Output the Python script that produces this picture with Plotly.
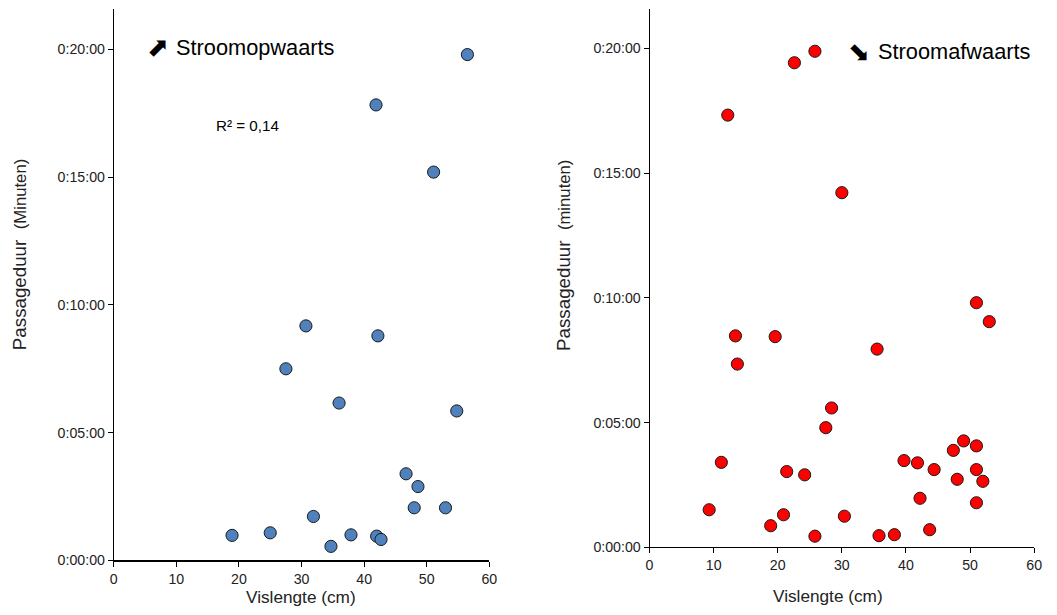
import plotly.graph_objects as go

# Stroomopwaarts (upstream): fish length (cm) and passage duration (minutes)
up_length = [41.9, 56.5, 51.1, 30.7, 42.2, 27.5, 36.0, 54.8, 46.7, 48.6,
             48.0, 53.0, 31.9, 18.9, 25.0, 34.7, 37.9, 42.0, 42.7]
up_minutes = [17.83, 19.80, 15.20, 9.18, 8.79, 7.50, 6.16, 5.85, 3.39, 2.89,
              2.06, 2.06, 1.72, 0.98, 1.08, 0.55, 1.00, 0.95, 0.82]

# Stroomafwaarts (downstream)
down_length = [12.2, 22.6, 25.8, 30.0, 51.0, 53.0, 13.4, 19.6, 35.5, 13.7,
               28.4, 27.5, 49.0, 47.4, 51.0, 11.2, 39.7, 41.8, 44.4, 51.0,
               21.4, 24.2, 48.0, 52.0, 42.2, 51.0, 9.3, 20.9, 30.4, 18.9,
               25.8, 35.8, 38.2, 43.7]
down_minutes = [17.33, 19.43, 19.89, 14.22, 9.81, 9.05, 8.48, 8.45, 7.95, 7.35,
                5.59, 4.80, 4.27, 3.89, 4.07, 3.41, 3.48, 3.39, 3.12, 3.12,
                3.04, 2.91, 2.73, 2.65, 1.97, 1.79, 1.51, 1.31, 1.25, 0.87,
                0.45, 0.47, 0.51, 0.71]

x_ticks = [0, 10, 20, 30, 40, 50, 60]
y_tickvals = [0, 5, 10, 15, 20]
y_ticktext = ["0:00:00", "0:05:00", "0:10:00", "0:15:00", "0:20:00"]

OFF = 8
W, H = 1057 - 2 * OFF, 615 - 2 * OFF
FONT = "Liberation Sans, Arial, sans-serif"
S = 0.987          # observed rendering scale
AX, AY = 4.5, -0.5  # observed rendering offset

def px_x(p):
    d = (p - AX) / S
    return (d - OFF) / W

def px_y(p):
    d = (p - AY) / S
    return 1 - (d - OFF) / H

def fs(v):
    return round(v / S, 2)

fig = go.Figure()
fig.add_trace(go.Scatter(
    x=up_length, y=up_minutes, mode="markers", xaxis="x", yaxis="y",
    marker=dict(size=fs(12), color="#4F81BD", line=dict(color="#1a1a1a", width=1)),
    showlegend=False))
fig.add_trace(go.Scatter(
    x=down_length, y=down_minutes, mode="markers", xaxis="x2", yaxis="y2",
    marker=dict(size=fs(12), color="#FF0000", line=dict(color="#1a1a1a", width=1)),
    showlegend=False))

tickfont = dict(family=FONT, size=fs(14), color="#222")
common_x = dict(range=[0, 60], tickvals=x_ticks, ticks="outside", ticklen=5,
                tickcolor="black", showgrid=False, zeroline=False,
                showline=True, linecolor="black", tickfont=tickfont, fixedrange=True)
common_y = dict(range=[0, 21.6], tickvals=y_tickvals, ticktext=y_ticktext,
                ticks="outside", ticklen=5, tickcolor="black", showgrid=False,
                zeroline=False, showline=True, linecolor="black", linewidth=1,
                tickfont=tickfont, fixedrange=True)

fig.update_layout(
    width=W, height=H,
    margin=dict(l=0, r=0, t=0, b=0),
    paper_bgcolor="white", plot_bgcolor="white",
    font=dict(family=FONT, color="#222"),
    xaxis=dict(domain=[px_x(114), px_x(489)], anchor="y", linewidth=2, **common_x),
    yaxis=dict(domain=[px_y(560), px_y(8)], anchor="x", **common_y),
    xaxis2=dict(domain=[px_x(649), px_x(1033)], anchor="y2", linewidth=1, **common_x),
    yaxis2=dict(domain=[px_y(547), px_y(8)], anchor="x2", **common_y),
)

def note(text, x, y, size, family=FONT, color="#222", xanchor="center", angle=0):
    return dict(text=text, x=px_x(x), y=px_y(y), xref="paper", yref="paper",
                xanchor=xanchor, yanchor="middle", textangle=angle, showarrow=False,
                font=dict(size=fs(size), family=family, color=color))

ann = [
    note("Vislengte (cm)", 301, 597, 17),
    note("Vislengte (cm)", 827, 596, 17),
    note("Passageduur\u00a0\u00a0<span style='font-size:%.2fpx'>(Minuten)</span>" % fs(16.5),
         20, 254, 18.5, angle=-90),
    note("Passageduur\u00a0\u00a0<span style='font-size:%.2fpx'>(minuten)</span>" % fs(16.5),
         563, 255, 18.5, angle=-90),
    note("\u2b08", 158, 46, 26, family="DejaVu Sans", color="black"),
    note("\u2b0a", 858, 51, 26, family="DejaVu Sans", color="black"),
    note("Stroomopwaarts", 174, 47, 21.5, color="black", xanchor="left"),
    note("Stroomafwaarts", 875, 51, 21.5, color="black", xanchor="left"),
    note("R² = 0,14", 214, 125, 15, color="black", xanchor="left"),
]
fig.update_layout(annotations=ann)

fig.write_html("out.html")
